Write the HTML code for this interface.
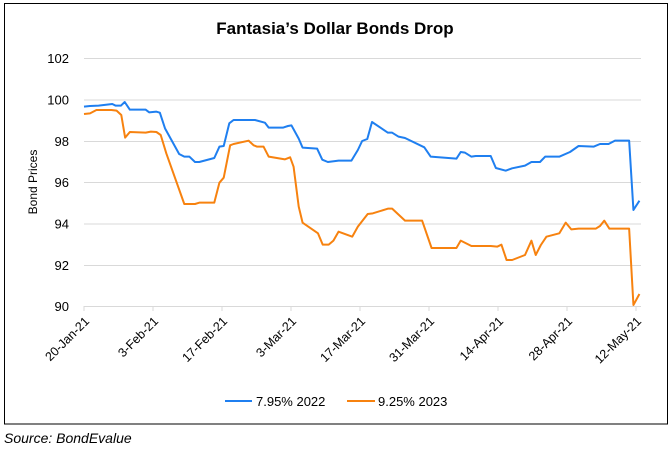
<!DOCTYPE html>
<html><head><style>
body{margin:0;background:#fff;width:669px;height:452px;overflow:hidden}
</style></head><body>
<svg width="669" height="452" xmlns="http://www.w3.org/2000/svg" font-family="'Liberation Sans', sans-serif">
<rect x="4.5" y="3.5" width="663" height="420.5" fill="#fff" stroke="#000" stroke-width="1"/>
<text x="335" y="34" text-anchor="middle" font-size="17" font-weight="bold">Fantasia’s Dollar Bonds Drop</text>
<g stroke="#d9d9d9" stroke-width="1">
<line x1="84" x2="641" y1="58.5" y2="58.5"/>
<line x1="84" x2="641" y1="100" y2="100"/>
<line x1="84" x2="641" y1="141.5" y2="141.5"/>
<line x1="84" x2="641" y1="182.5" y2="182.5"/>
<line x1="84" x2="641" y1="224" y2="224"/>
<line x1="84" x2="641" y1="265.5" y2="265.5"/>
<line x1="84" x2="641" y1="306.5" y2="306.5"/>
</g>
<g stroke="#d9d9d9">
<line x1="84" x2="84" y1="306" y2="311"/><line x1="153" x2="153" y1="306" y2="311"/><line x1="222" x2="222" y1="306" y2="311"/><line x1="291" x2="291" y1="306" y2="311"/><line x1="360" x2="360" y1="306" y2="311"/><line x1="429" x2="429" y1="306" y2="311"/><line x1="498" x2="498" y1="306" y2="311"/><line x1="567" x2="567" y1="306" y2="311"/><line x1="636" x2="636" y1="306" y2="311"/>
</g>
<g font-size="13" fill="#000" text-anchor="end">
<text x="69" y="63">102</text><text x="69" y="104.5">100</text><text x="69" y="146">98</text><text x="69" y="187">96</text><text x="69" y="228.5">94</text><text x="69" y="270">92</text><text x="69" y="311">90</text>
</g>
<text transform="translate(37,182) rotate(-90)" text-anchor="middle" font-size="12">Bond Prices</text>
<g font-size="12.5" text-anchor="end">
<text transform="translate(90,322) rotate(-45)">20-Jan-21</text>
<text transform="translate(159,322) rotate(-45)">3-Feb-21</text>
<text transform="translate(228,322) rotate(-45)">17-Feb-21</text>
<text transform="translate(297,322) rotate(-45)">3-Mar-21</text>
<text transform="translate(366,322) rotate(-45)">17-Mar-21</text>
<text transform="translate(435,322) rotate(-45)">31-Mar-21</text>
<text transform="translate(504,322) rotate(-45)">14-Apr-21</text>
<text transform="translate(573,322) rotate(-45)">28-Apr-21</text>
<text transform="translate(642,322) rotate(-45)">12-May-21</text>
</g>
<g transform="translate(0,40) scale(0.42857,0.33333)" fill="none" stroke-width="2" stroke-linejoin="round">
<polyline vector-effect="non-scaling-stroke" stroke="#1f7ff0" points="196,200 210,198 230,197 262,192 270,197 282,197 291,186 303,209 340,209 348,217 365,215 373,218 385,265 418,342 430,350 442,350 455,366 465,366 500,354 512,320 522,318 535,250 545,240 595,240 618,248 627,263 660,263 672,258 680,256 697,296 706,323 740,326 752,359 765,366 790,362 820,362 835,330 845,303 857,297 868,246 905,278 915,278 930,290 945,294 990,322 1005,350 1065,356 1075,336 1085,338 1100,350 1110,348 1145,348 1157,384 1180,392 1195,385 1225,377 1240,366 1260,366 1272,350 1305,350 1330,336 1350,318 1385,320 1400,312 1420,312 1435,302 1468,302 1478,510 1492,482"/>
<polyline vector-effect="non-scaling-stroke" stroke="#f7820f" points="196,222 210,220 225,210 260,210 272,212 283,225 292,293 303,276 340,278 352,275 365,276 375,285 388,340 430,492 455,492 465,488 500,488 512,428 522,413 537,316 545,312 580,302 592,316 600,320 615,320 627,350 665,358 677,352 685,380 697,500 706,548 742,580 753,614 767,614 778,602 790,575 822,590 835,560 858,522 870,520 905,506 915,506 945,542 985,542 1007,624 1065,624 1075,602 1100,618 1145,618 1160,620 1170,614 1182,660 1195,660 1225,645 1240,602 1250,645 1262,615 1275,590 1305,580 1320,548 1333,568 1350,566 1390,566 1400,558 1410,542 1422,566 1468,566 1478,795 1492,762"/>
</g>
<line x1="225" x2="252" y1="401" y2="401" stroke="#1f7ff0" stroke-width="2"/>
<text x="256" y="406" font-size="13">7.95% 2022</text>
<line x1="347" x2="375" y1="401" y2="401" stroke="#f7820f" stroke-width="2"/>
<text x="378" y="406" font-size="13">9.25% 2023</text>
<text x="4" y="443" font-size="14" font-style="italic">Source: BondEvalue</text>
</svg>
</body></html>
